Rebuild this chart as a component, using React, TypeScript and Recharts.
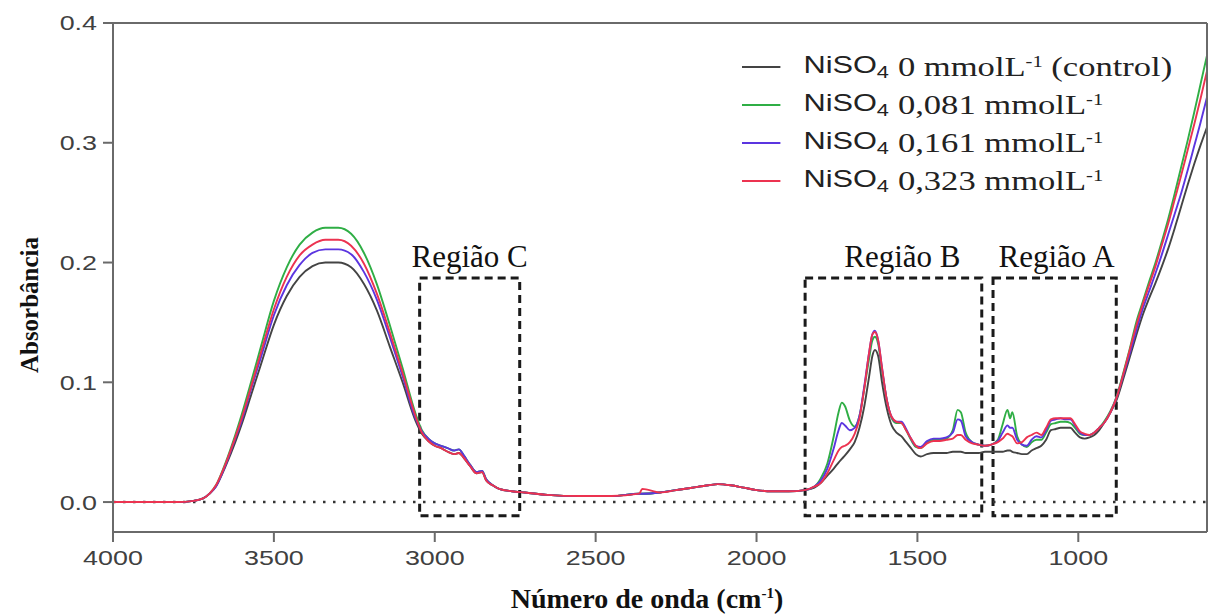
import {
  LineChart,
  Line,
  XAxis,
  YAxis,
  ReferenceLine,
  ReferenceArea,
  Legend,
} from "recharts";

// wavenumber (cm-1), high -> low
const WAVENUMBER = [
  4000, 3900, 3800, 3750, 3720, 3700, 3680, 3650, 3620, 3600,
  3570, 3540, 3500, 3460, 3420, 3380, 3340, 3300, 3260, 3220,
  3180, 3140, 3100, 3060, 3040, 3020, 3000, 2980, 2960, 2940,
  2925, 2910, 2890, 2870, 2853, 2840, 2820, 2800, 2760, 2720,
  2650, 2550, 2450, 2365, 2355, 2300, 2250, 2200, 2150, 2120,
  2080, 2040, 2000, 1950, 1900, 1850, 1820, 1800, 1780, 1760,
  1745, 1735, 1725, 1710, 1695, 1680, 1665, 1650, 1640, 1632,
  1622, 1610, 1595, 1580, 1565, 1550, 1535, 1520, 1505, 1490,
  1470, 1450, 1430, 1410, 1390, 1375, 1365, 1350, 1330, 1310,
  1290, 1270, 1250, 1235, 1220, 1212, 1205, 1190, 1175, 1160,
  1145, 1130, 1115, 1100, 1085, 1070, 1055, 1040, 1025, 1010,
  995, 980, 965, 950, 935, 920, 900, 880, 860, 840,
  820, 800, 780, 760, 740, 720, 700, 680, 660, 640,
  620, 600,
];

const CONTROL = [
  0, 0, 0, 0.001, 0.003, 0.007, 0.013, 0.03, 0.05, 0.065,
  0.09, 0.115, 0.148, 0.172, 0.188, 0.197, 0.2, 0.2, 0.196, 0.182,
  0.16, 0.13, 0.1, 0.068, 0.057, 0.051, 0.047, 0.045, 0.042, 0.04,
  0.041, 0.037, 0.03, 0.024, 0.025, 0.018, 0.014, 0.011, 0.009, 0.008,
  0.006, 0.005, 0.005, 0.007, 0.007, 0.008, 0.01, 0.012, 0.014, 0.015,
  0.014, 0.012, 0.01, 0.009, 0.009, 0.01, 0.012, 0.016, 0.022, 0.028,
  0.033, 0.036, 0.039, 0.044, 0.05, 0.062, 0.08, 0.105, 0.122, 0.127,
  0.122, 0.1, 0.078, 0.064, 0.058, 0.055, 0.05, 0.045, 0.04, 0.038,
  0.04, 0.041, 0.041, 0.041, 0.042, 0.042, 0.042, 0.041, 0.041, 0.041,
  0.042, 0.042, 0.042, 0.042, 0.043, 0.043, 0.042, 0.041, 0.04, 0.04,
  0.043, 0.045, 0.047, 0.052, 0.06, 0.061, 0.062, 0.062, 0.062, 0.058,
  0.054, 0.053, 0.054, 0.056, 0.06, 0.066, 0.075, 0.086, 0.103, 0.121,
  0.139, 0.156, 0.17, 0.183, 0.197, 0.212, 0.229, 0.247, 0.265, 0.282,
  0.298, 0.313,
];

const NI_081 = [
  0, 0, 0, 0.001, 0.003, 0.007, 0.014, 0.033, 0.056, 0.073,
  0.101, 0.13, 0.168, 0.196, 0.215, 0.225, 0.229, 0.229, 0.224, 0.208,
  0.182, 0.148, 0.112, 0.074, 0.06, 0.053, 0.049, 0.047, 0.045, 0.043,
  0.044, 0.039, 0.031, 0.025, 0.026, 0.019, 0.014, 0.011, 0.009, 0.008,
  0.006, 0.005, 0.005, 0.007, 0.007, 0.008, 0.01, 0.012, 0.014, 0.015,
  0.014, 0.012, 0.01, 0.009, 0.009, 0.01, 0.013, 0.02, 0.032, 0.055,
  0.075, 0.083, 0.08, 0.068, 0.063, 0.072, 0.095, 0.12, 0.135, 0.138,
  0.132, 0.11, 0.085, 0.07, 0.066, 0.066, 0.06, 0.052, 0.046, 0.045,
  0.05, 0.052, 0.052, 0.053, 0.06, 0.077, 0.075, 0.058, 0.05, 0.048,
  0.047, 0.048, 0.052, 0.065, 0.077, 0.07, 0.075, 0.055, 0.048, 0.046,
  0.05, 0.052, 0.052, 0.058, 0.065, 0.066, 0.067, 0.067, 0.066, 0.062,
  0.057, 0.056, 0.056, 0.058, 0.062, 0.067, 0.076, 0.089, 0.108, 0.128,
  0.15, 0.167, 0.184, 0.2, 0.218, 0.237, 0.258, 0.28, 0.302, 0.325,
  0.349, 0.373,
];

const NI_161 = [
  0, 0, 0, 0.001, 0.003, 0.007, 0.013, 0.031, 0.053, 0.068,
  0.095, 0.121, 0.156, 0.181, 0.198, 0.208, 0.211, 0.211, 0.207, 0.192,
  0.169, 0.138, 0.105, 0.07, 0.059, 0.053, 0.049, 0.047, 0.045, 0.043,
  0.044, 0.039, 0.031, 0.025, 0.026, 0.019, 0.014, 0.011, 0.009, 0.008,
  0.006, 0.005, 0.005, 0.007, 0.007, 0.008, 0.01, 0.012, 0.014, 0.015,
  0.014, 0.012, 0.01, 0.009, 0.009, 0.01, 0.013, 0.018, 0.028, 0.045,
  0.06, 0.066, 0.064, 0.06, 0.062, 0.072, 0.097, 0.125, 0.14, 0.143,
  0.135, 0.112, 0.085, 0.071, 0.067, 0.067, 0.061, 0.053, 0.047, 0.046,
  0.051, 0.053, 0.053, 0.054, 0.058, 0.069, 0.068, 0.055, 0.05, 0.048,
  0.047, 0.048, 0.051, 0.058, 0.064, 0.062, 0.062, 0.052, 0.048, 0.047,
  0.052, 0.055, 0.054, 0.06, 0.068, 0.069, 0.07, 0.069, 0.069, 0.064,
  0.058, 0.056, 0.056, 0.058, 0.062, 0.066, 0.075, 0.088, 0.106, 0.124,
  0.143, 0.161, 0.176, 0.191, 0.207, 0.224, 0.241, 0.258, 0.277, 0.297,
  0.317, 0.338,
];

const NI_323 = [
  0, 0, 0, 0.001, 0.003, 0.007, 0.014, 0.032, 0.054, 0.07,
  0.097, 0.125, 0.161, 0.188, 0.206, 0.215, 0.219, 0.219, 0.214, 0.199,
  0.174, 0.142, 0.108, 0.072, 0.058, 0.051, 0.047, 0.045, 0.042, 0.04,
  0.041, 0.037, 0.03, 0.024, 0.025, 0.018, 0.014, 0.011, 0.009, 0.008,
  0.006, 0.005, 0.005, 0.007, 0.011, 0.008, 0.01, 0.012, 0.014, 0.015,
  0.014, 0.012, 0.01, 0.009, 0.009, 0.01, 0.013, 0.016, 0.024, 0.035,
  0.043, 0.046, 0.047, 0.05, 0.057, 0.07, 0.095, 0.125, 0.14, 0.142,
  0.135, 0.112, 0.085, 0.071, 0.067, 0.066, 0.06, 0.053, 0.047, 0.045,
  0.049, 0.051, 0.051, 0.052, 0.053, 0.056, 0.056, 0.052, 0.049, 0.048,
  0.047, 0.048, 0.05, 0.053, 0.057, 0.056, 0.055, 0.049, 0.05, 0.054,
  0.056, 0.058, 0.056, 0.062, 0.069, 0.07, 0.07, 0.07, 0.07, 0.065,
  0.059, 0.057, 0.056, 0.058, 0.062, 0.066, 0.075, 0.088, 0.107, 0.127,
  0.147, 0.165, 0.181, 0.197, 0.215, 0.233, 0.253, 0.273, 0.294, 0.315,
  0.337, 0.36,
];

const SERIES_KEYS = ["c0", "c081", "c161", "c323"];
const SERIES_CONC = ["0", "0,081", "0,161", "0,323"];
const SERIES_NOTE = [" (control)", "", "", ""];
const SERIES_COLORS = ["#444444", "#2fae45", "#5b35e0", "#ec3350"];

const X_TICKS = [4000, 3500, 3000, 2500, 2000, 1500, 1000];
const Y_TICKS = [0, 0.1, 0.2, 0.3, 0.4];

// dashed boxes: [from, to] in cm-1, label
const REGION_NAMES = ["Região C", "Região B", "Região A"];
const REGION_X1 = [3047, 1849, 1265];
const REGION_X2 = [2736, 1300, 882];
const REGION_DX = [0, 9, 2];
const REGION_TOP = 0.187;
const REGION_BOTTOM = -0.0115;

const data = WAVENUMBER.map((w, i) => ({
  w,
  c0: CONTROL[i],
  c081: NI_081[i],
  c161: NI_161[i],
  c323: NI_323[i],
}));

const axisColor = "#6a6a6a";
const SANS = "Liberation Sans, Arial, sans-serif";
const SERIF = "Liberation Serif, Times New Roman, serif";
// the source figure is stretched sideways, so are its texts
const STRETCH = 1.28;

function XTick(props: any) {
  const { x, y, payload } = props;
  return (
    <g transform={`translate(${x},${y})`}>
      <text transform={`scale(${STRETCH},1)`} textAnchor="middle" dy="0.71em" fontFamily={SANS} fontSize={21} fill="#404040">
        {payload.value}
      </text>
    </g>
  );
}

function YTick(props: any) {
  const { x, y, payload } = props;
  return (
    <g transform={`translate(${x},${y})`}>
      <text transform={`scale(${STRETCH},1)`} textAnchor="end" dy="0.355em" fontFamily={SANS} fontSize={21} fill="#404040">
        {Number(payload.value).toFixed(1)}
      </text>
    </g>
  );
}

function LegendBox() {
  return (
    <div style={{ color: "#222", transform: `scaleX(${STRETCH})`, transformOrigin: "0 0" }}>
      {SERIES_KEYS.map((k, i) => (
        <div key={k} style={{ display: "flex", alignItems: "center", height: 38, whiteSpace: "nowrap" }}>
          <span style={{ display: "inline-block", width: 30, height: 2, background: SERIES_COLORS[i], marginRight: 18 }} />
          <span style={{ fontFamily: SANS, fontSize: 24 }}>
            NiSO<sub style={{ fontSize: 17, verticalAlign: -5 }}>4</sub>
          </span>
          <span style={{ fontFamily: SERIF, fontSize: 27, marginLeft: 7 }}>
            {SERIES_CONC[i]} mmolL<sup style={{ fontSize: 16, verticalAlign: 9 }}>-1</sup>
            {SERIES_NOTE[i]}
          </span>
        </div>
      ))}
    </div>
  );
}

export default function App() {
  return (
    <div style={{ position: "absolute", left: 0, top: 0, background: "#fff" }}>
      <LineChart width={1210} height={614} data={data} margin={{ top: 23, right: 3, bottom: 0, left: 0 }}>
        <XAxis
          dataKey="w"
          type="number"
          domain={[600, 4000]}
          reversed
          ticks={X_TICKS}
          height={82}
          allowDataOverflow
          stroke={axisColor}
          strokeWidth={2}
          tickSize={10}
          tickMargin={8}
          tick={<XTick />}
          label={{
            content: () => (
              <text x={647} y={608} textAnchor="middle" fontFamily={SERIF} fontWeight="bold" fontSize={28} fill="#111">
                Número de onda (cm
                <tspan dy={-10} fontSize={15}>-1</tspan>
                <tspan dy={10}>)</tspan>
              </text>
            ),
          }}
        />
        <XAxis
          xAxisId="top"
          dataKey="w"
          type="number"
          orientation="top"
          domain={[600, 4000]}
          reversed
          ticks={X_TICKS}
          mirror
          tick={false}
          tickSize={6}
          stroke={axisColor}
          strokeWidth={2}
          allowDataOverflow
        />
        <YAxis
          domain={[-0.025, 0.4]}
          ticks={Y_TICKS}
          width={113}
          allowDataOverflow
          stroke={axisColor}
          strokeWidth={2}
          tickSize={10}
          tickMargin={6}
          tick={<YTick />}
          label={{
            content: () => (
              <text
                x={29}
                y={305}
                transform="rotate(-90 29 305)"
                textAnchor="middle"
                dominantBaseline="central"
                fontFamily={SERIF}
                fontWeight="bold"
                fontSize={25}
                fill="#111"
              >
                Absorbância
              </text>
            ),
          }}
        />
        <YAxis
          yAxisId="right"
          orientation="right"
          domain={[-0.025, 0.4]}
          ticks={Y_TICKS}
          mirror
          tick={false}
          tickSize={8}
          stroke={axisColor}
          strokeWidth={2}
          allowDataOverflow
        />
        <ReferenceLine y={0} stroke="#333" strokeWidth={2.5} strokeDasharray="2.5 7.5" />
        {REGION_NAMES.map((name, i) => (
          <ReferenceArea
            key={name}
            x1={REGION_X1[i]}
            x2={REGION_X2[i]}
            y1={REGION_BOTTOM}
            y2={REGION_TOP}
            fill="none"
            fillOpacity={0}
            stroke="#1a1a1a"
            strokeWidth={3}
            strokeDasharray="8 5"
            label={{
              value: name,
              position: "top",
              offset: 11,
              dx: REGION_DX[i],
              fill: "#111",
              fontSize: 31,
              fontFamily: SERIF,
            }}
          />
        ))}
        {SERIES_KEYS.map((k, i) => (
          <Line
            key={k}
            dataKey={k}
            type="monotone"
            stroke={SERIES_COLORS[i]}
            strokeWidth={1.9}
            dot={false}
            isAnimationActive={false}
          />
        ))}
        <Legend
          layout="vertical"
          align="center"
          verticalAlign="middle"
          content={() => <LegendBox />}
          wrapperStyle={{ left: 742, top: 48, width: 468 }}
        />
      </LineChart>
    </div>
  );
}
